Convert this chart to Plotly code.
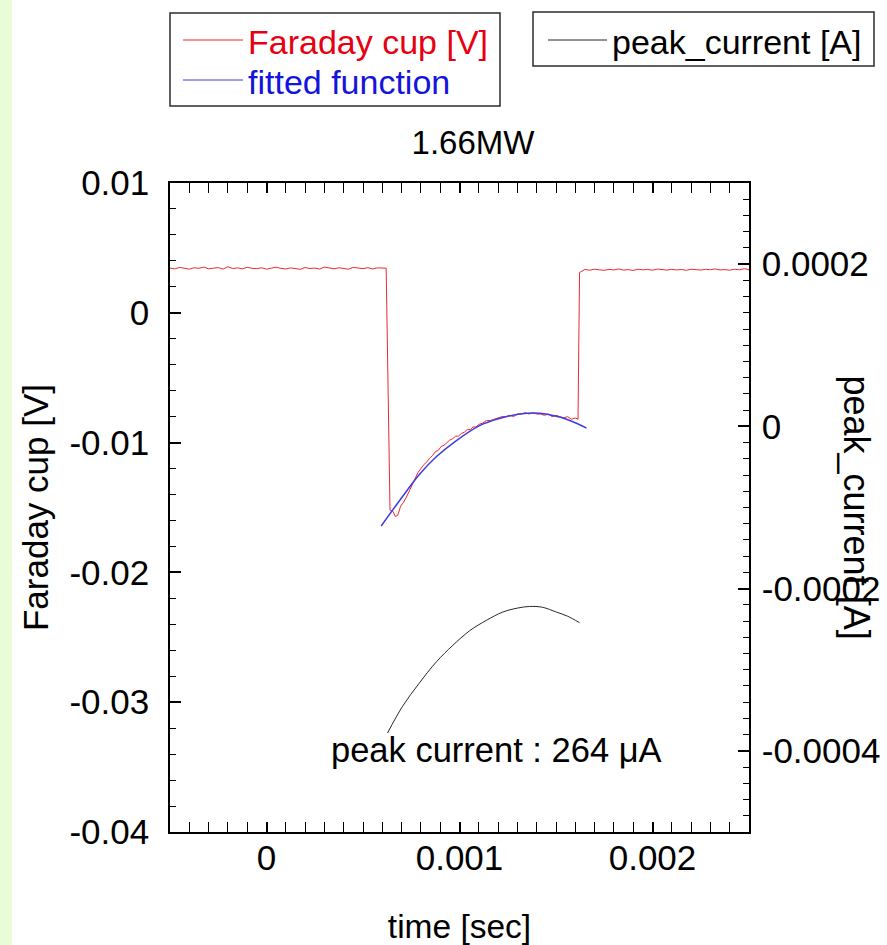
import plotly.graph_objects as go

# ---------------- data ----------------
# Faraday cup signal [V] vs time [sec]
fc_t = [
    -0.000500, -0.000475, -0.000450, -0.000425, -0.000400, -0.000375, -0.000350, -0.000325, -0.000300, -0.000275,
    -0.000250, -0.000225, -0.000200, -0.000175, -0.000150, -0.000125, -0.000100, -0.000075, -0.000050, -0.000025,
    0.000000, 0.000025, 0.000050, 0.000075, 0.000100, 0.000125, 0.000150, 0.000175, 0.000200, 0.000225,
    0.000250, 0.000275, 0.000300, 0.000325, 0.000350, 0.000375, 0.000400, 0.000425, 0.000450, 0.000475,
    0.000500, 0.000525, 0.000550, 0.000575, 0.000600, 0.000620,
    0.000640, 0.000655, 0.000668, 0.000680, 0.000695, 0.000710,
    0.000725, 0.000740, 0.000755, 0.000770, 0.000785, 0.000800, 0.000815, 0.000830, 0.000845, 0.000860,
    0.000875, 0.000890, 0.000905, 0.000920, 0.000935, 0.000950, 0.000965, 0.000980, 0.000995, 0.001010,
    0.001025, 0.001040, 0.001055, 0.001070, 0.001085, 0.001100, 0.001120, 0.001140, 0.001160, 0.001180,
    0.001200, 0.001220, 0.001240, 0.001260, 0.001280, 0.001300, 0.001320, 0.001340, 0.001360, 0.001380,
    0.001400, 0.001420, 0.001440, 0.001460, 0.001480, 0.001500, 0.001520, 0.001540, 0.001560, 0.001580,
    0.001600, 0.001614,
    0.001622, 0.001650, 0.001675, 0.001700, 0.001725, 0.001750, 0.001775, 0.001800, 0.001825, 0.001850,
    0.001875, 0.001900, 0.001925, 0.001950, 0.001975, 0.002000, 0.002025, 0.002050, 0.002075, 0.002100,
    0.002125, 0.002150, 0.002175, 0.002200, 0.002225, 0.002250, 0.002275, 0.002300, 0.002325, 0.002350,
    0.002375, 0.002400, 0.002425, 0.002450, 0.002475, 0.002500,
]
fc_v = [
    0.00345, 0.00338, 0.00350, 0.00341, 0.00336, 0.00347, 0.00343, 0.00352, 0.00339, 0.00344,
    0.00348, 0.00337, 0.00355, 0.00341, 0.00346, 0.00339, 0.00350, 0.00343, 0.00340, 0.00347,
    0.00336, 0.00344, 0.00351, 0.00342, 0.00338, 0.00346, 0.00343, 0.00335, 0.00349, 0.00341,
    0.00345, 0.00337, 0.00352, 0.00344, 0.00339, 0.00347, 0.00342, 0.00336, 0.00350, 0.00345,
    0.00340, 0.00348, 0.00338, 0.00346, 0.00343, 0.00344,
    -0.0152, -0.0153, -0.0157, -0.0156, -0.0149, -0.0146,
    -0.0142, -0.0137, -0.0132, -0.0127, -0.0123, -0.0120, -0.0117, -0.0115, -0.0112, -0.0110,
    -0.0107, -0.0106, -0.0103, -0.0102, -0.0100, -0.0098, -0.0097, -0.0095, -0.0095, -0.0093,
    -0.0092, -0.0090, -0.0090, -0.0088, -0.0088, -0.0086, -0.0085, -0.0083, -0.0083, -0.0082,
    -0.0081, -0.0080, -0.0080, -0.0079, -0.0080, -0.0078, -0.0078, -0.0077, -0.0078, -0.0077,
    -0.0078, -0.0078, -0.0079, -0.0078, -0.0080, -0.0079, -0.0080, -0.0081, -0.0080, -0.0082,
    -0.0081, -0.0082,
    0.00310, 0.00334, 0.00328, 0.00336, 0.00331, 0.00327, 0.00335, 0.00330, 0.00338, 0.00329,
    0.00333, 0.00326, 0.00336, 0.00331, 0.00334, 0.00328, 0.00337, 0.00332, 0.00329, 0.00335,
    0.00330, 0.00334, 0.00327, 0.00336, 0.00331, 0.00329, 0.00335, 0.00332, 0.00338, 0.00330,
    0.00333, 0.00328, 0.00336, 0.00331, 0.00340, 0.00332,
]

# fitted function [V]
fit_t = [0.000594, 0.000705, 0.000793, 0.000881, 0.000984, 0.001104, 0.001207, 0.001311, 0.001415,
         0.001518, 0.001606, 0.001658]
fit_v = [-0.01643, -0.01415, -0.01244, -0.01107, -0.00984, -0.00869, -0.00814, -0.00779, -0.00773,
         -0.00803, -0.00851, -0.00889]

# peak current [A] (right axis)
pc_t = [0.000627, 0.000705, 0.000790, 0.000881, 0.000965, 0.001052, 0.001140, 0.001223, 0.001300,
        0.001363, 0.001430, 0.001503, 0.001560, 0.001622]
pc_v = [-0.000378, -0.000345, -0.000317, -0.000290, -0.000270, -0.000252, -0.000239, -0.000229,
        -0.000224, -0.000222, -0.000223, -0.000229, -0.000234, -0.000242]

# tick labels
x_tickvals = [0.0, 0.001, 0.002]
x_ticktext = ["0", "0.001", "0.002"]
y1_tickvals = [0.01, 0.0, -0.01, -0.02, -0.03, -0.04]
y1_ticktext = ["0.01", "0", "-0.01", "-0.02", "-0.03", "-0.04"]
y2_tickvals = [0.0002, 0.0, -0.0002, -0.0004]
y2_ticktext = ["0.0002", "0", "-0.0002", "-0.0004"]

# legend entries (label, line colour, text colour)
legend1_items = [("Faraday cup [V]", "rgb(238,40,48)", "rgb(230,0,18)"),
                 ("fitted function", "rgb(60,60,225)", "rgb(20,20,220)")]
legend2_items = [("peak_current [A]", "rgb(40,40,40)", "black")]

FONT = "Liberation Sans, Arial, Helvetica, sans-serif"
TICK_FS = 35
TITLE_FS = 35
LEG_FS = 34

fig = go.Figure()
fig.add_trace(go.Scatter(
    x=fc_t, y=fc_v, mode="lines",
    line=dict(color=legend1_items[0][1], width=1),
    name=legend1_items[0][0], showlegend=False,
))
fig.add_trace(go.Scatter(
    x=fit_t, y=fit_v, mode="lines", line_shape="spline",
    line=dict(color=legend1_items[1][1], width=1.5),
    name=legend1_items[1][0], showlegend=False,
))
fig.add_trace(go.Scatter(
    x=pc_t, y=pc_v, mode="lines", line_shape="spline", yaxis="y2",
    line=dict(color=legend2_items[0][1], width=1),
    name=legend2_items[0][0], showlegend=False,
))

L, R, T, B = 170, 138, 183, 113
W, H = 887, 945
pw = W - L - R
ph = H - T - B


def px(xp):
    return (xp - L) / pw


def py(yp):
    return 1 - (yp - T) / ph


shapes = [dict(type="rect", xref="paper", yref="paper",
               x0=px(-10), x1=px(12), y0=py(H + 10), y1=py(-10),
               fillcolor="rgb(234,251,216)", line=dict(width=0), layer="below")]
annotations = []


# hand-drawn legend boxes (as in the original, line samples are long)
def add_legend(box, items, line_x0, line_x1, text_x, row_y0, row_gap):
    bx0, by0, bx1, by1 = box
    shapes.append(dict(type="rect", xref="paper", yref="paper",
                       x0=px(bx0), x1=px(bx1), y0=py(by1), y1=py(by0),
                       line=dict(color="rgb(45,45,45)", width=1.5), fillcolor="white"))
    for i, (label, lcol, tcol) in enumerate(items):
        yl = row_y0 + i * row_gap
        shapes.append(dict(type="line", xref="paper", yref="paper",
                           x0=px(line_x0), x1=px(line_x1), y0=py(yl), y1=py(yl),
                           line=dict(color=lcol, width=1)))
        annotations.append(dict(text=label, xref="paper", yref="paper", x=px(text_x), y=py(yl + 2),
                                xanchor="left", yanchor="middle", showarrow=False,
                                font=dict(size=LEG_FS, family=FONT, color=tcol)))


add_legend((170, 13, 500, 106), legend1_items, 183, 243, 246, 40, 40)
add_legend((533, 12, 874, 66), legend2_items, 548, 607, 610, 40, 40)

annotations.append(dict(text="peak current : 264 \u03bcA", x=0.001192, y=-0.03368, xref="x", yref="y",
                        showarrow=False, xanchor="center", yanchor="middle",
                        font=dict(size=34.5, family=FONT)))
annotations.append(dict(text="peak_current [A]", x=px(856), y=0.5, xref="paper", yref="paper",
                        textangle=90, showarrow=False, xanchor="center", yanchor="middle",
                        font=dict(size=36, family=FONT)))

fig.update_layout(
    width=W, height=H, autosize=False,
    margin=dict(l=L, r=R, t=T, b=B, pad=0, autoexpand=False),
    paper_bgcolor="white", plot_bgcolor="white",
    font=dict(family=FONT, size=TICK_FS, color="black"),
    showlegend=False,
    title=dict(text="1.66MW", x=473 / W, xanchor="center", y=1 - 142 / H, yanchor="middle",
               font=dict(size=33, family=FONT, color="black")),
    xaxis=dict(
        range=[-0.0005, 0.0025], showgrid=False, zeroline=False, automargin=False,
        showline=True, linecolor="black", linewidth=1.5, mirror="allticks",
        ticks="inside", ticklen=10, tickwidth=1.5, tickcolor="black",
        tickvals=x_tickvals, ticktext=x_ticktext, ticklabelstandoff=-6,
        minor=dict(dtick=0.0001, tick0=0, ticks="inside", ticklen=6, tickwidth=1.2, tickcolor="black"),
        title=dict(text="time [sec]", standoff=42, font=dict(size=33.5)),
    ),
    yaxis=dict(
        range=[-0.04, 0.01], showgrid=False, zeroline=False, automargin=False,
        showline=True, linecolor="black", linewidth=1.5,
        ticks="inside", ticklen=11, tickwidth=1.5, tickcolor="black",
        tickvals=y1_tickvals, ticktext=y1_ticktext, ticklabelstandoff=12,
        minor=dict(dtick=0.002, tick0=0, ticks="inside", ticklen=6, tickwidth=1.2, tickcolor="black"),
        title=dict(text="Faraday cup [V]", standoff=10, font=dict(size=TITLE_FS)),
    ),
    yaxis2=dict(
        range=[-0.0005, 0.0003], overlaying="y", side="right", showgrid=False, zeroline=False,
        automargin=False,
        showline=True, linecolor="black", linewidth=1.5,
        ticks="inside", ticklen=11, tickwidth=1.5, tickcolor="black",
        tickvals=y2_tickvals, ticktext=y2_ticktext, ticklabelstandoff=4,
        minor=dict(dtick=0.00002, tick0=0, ticks="inside", ticklen=6, tickwidth=1.2, tickcolor="black"),
    ),
    shapes=shapes,
    annotations=annotations,
)

fig.write_html("out.html", config={"displayModeBar": False},
               post_script="document.body.style.margin='0px';document.body.style.overflow='hidden';")
